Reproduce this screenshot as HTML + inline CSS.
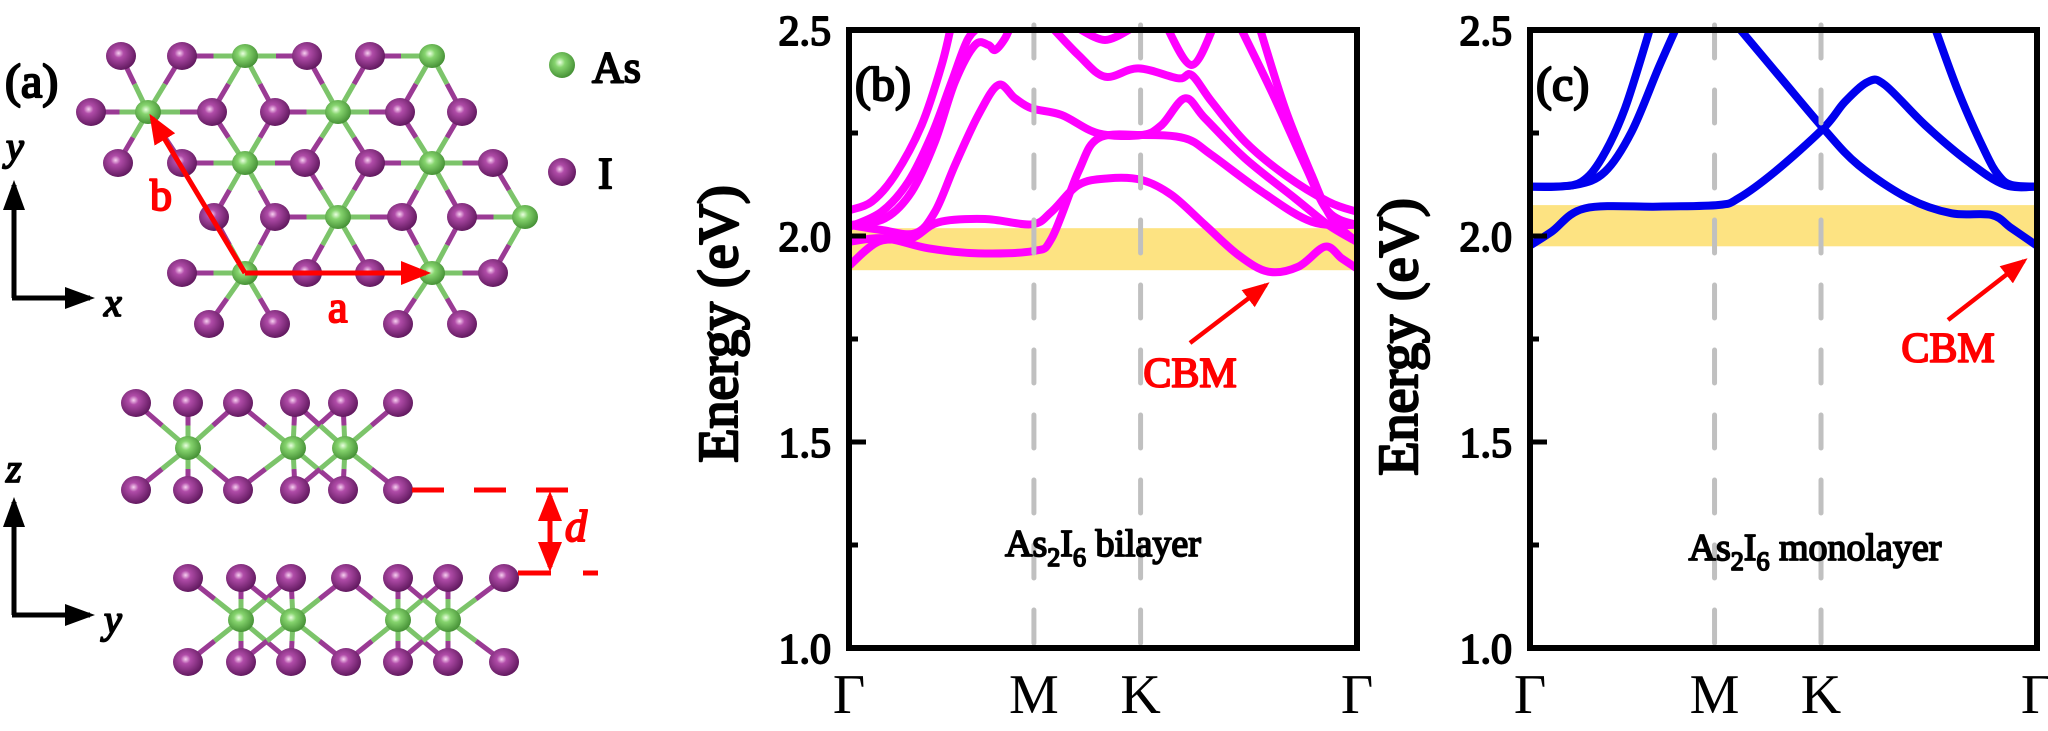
<!DOCTYPE html>
<html><head><meta charset="utf-8">
<style>
html,body{margin:0;padding:0;background:#fff;}
svg{display:block;}
</style></head>
<body>
<svg id="s" width="2048" height="731" viewBox="0 0 2048 731" xmlns="http://www.w3.org/2000/svg">
<defs>
<radialGradient id="gI" cx="0.42" cy="0.4" r="0.65">
<stop offset="0" stop-color="#f7d0f0"/><stop offset="0.25" stop-color="#b04ca8"/><stop offset="1" stop-color="#5a1458"/>
</radialGradient>
<radialGradient id="gA" cx="0.42" cy="0.4" r="0.65">
<stop offset="0" stop-color="#eaffe0"/><stop offset="0.3" stop-color="#86d46e"/><stop offset="1" stop-color="#3f8a30"/>
</radialGradient>
<marker id="ah" markerWidth="6" markerHeight="6" refX="5" refY="3" orient="auto" markerUnits="strokeWidth">
<path d="M0,0.6 L6,3 L0,5.4 Z" fill="#f00"/></marker>
<marker id="ahk" markerWidth="6" markerHeight="6" refX="5" refY="3" orient="auto" markerUnits="strokeWidth">
<path d="M0,0.8 L6,3 L0,5.2 Z" fill="#000"/></marker>
</defs>
<g id="struct"></g>
<g stroke="#000" stroke-width="5" fill="none">
<line x1="14" y1="298" x2="14" y2="185" marker-end="url(#ahk)"/>
<line x1="12" y1="298" x2="90" y2="298" marker-end="url(#ahk)"/>
<line x1="14" y1="615" x2="14" y2="502" marker-end="url(#ahk)"/>
<line x1="12" y1="615" x2="90" y2="615" marker-end="url(#ahk)"/>
</g>
<circle cx="562" cy="65" r="13" fill="url(#gA)"/>
<circle cx="562" cy="172" r="14" fill="url(#gI)"/>
<g id="pb"></g>
<g id="pc"></g>
</svg>
<script>
var NS="http://www.w3.org/2000/svg";
var FF="'Liberation Serif', serif";
var svg=document.getElementById('s');
function el(p,t,a,txt){var e=document.createElementNS(NS,t);for(var k in a)e.setAttribute(k,a[k]);if(txt!==undefined)e.textContent=txt;p.appendChild(e);return e;}
// text helper: bold simulated with stroke on regular serif
function tx(p,x,y,size,str,o){o=o||{};var col=o.fill||'#000';
 var a={x:x,y:y,'font-size':size,'font-family':FF,fill:col,'font-weight':'normal'};
 if(o.anchor)a['text-anchor']=o.anchor;if(o.italic)a['font-style']='italic';if(o.transform)a.transform=o.transform;
 if(o.bold!==false){a.stroke=col;a['stroke-width']=(size*0.045).toFixed(2);a['stroke-linejoin']='round';}
 var e=el(p,'text',a);if(str!==null)e.textContent=str;return e;}
tx(svg,5,97,48,'(a)');
tx(svg,592,82,44,'As');
tx(svg,598,188,44,'I');
tx(svg,6,160,40,'y',{italic:1});
tx(svg,104,316,40,'x',{italic:1});
tx(svg,6,482,40,'z',{italic:1});
tx(svg,104,633,40,'y',{italic:1});

var st=document.getElementById('struct');
var I=[],A=[];
function row(y,is,as){is.forEach(function(x){I.push([x,y]);});as.forEach(function(x){A.push([x,y]);});}
row(56,[121,182,307,370],[245,432]);
row(112,[91,212,275,400,462],[148,338]);
row(163,[118,182,305,370,493],[245,432]);
row(217,[214,275,402,462],[338,525]);
row(273,[182,307,370,493],[245,432]);
row(324,[209,275,398,462],[]);
var sI=[],sA=[];
[136,188,238,295,343,398].forEach(function(x){sI.push([x,403]);sI.push([x,490]);});
[188,293,345].forEach(function(x){sA.push([x,448]);});
[188,241,291,346,398,448,504].forEach(function(x){sI.push([x,578]);sI.push([x,662]);});
[241,293,398,448].forEach(function(x){sA.push([x,620]);});
function bonds(As,Is,d,w){As.forEach(function(a){Is.forEach(function(i){var dx=i[0]-a[0],dy=i[1]-a[1];if(Math.sqrt(dx*dx+dy*dy)<d){var mx=(a[0]+i[0])/2,my=(a[1]+i[1])/2;
el(st,'line',{x1:a[0],y1:a[1],x2:mx,y2:my,stroke:'#7cc46a','stroke-width':w});
el(st,'line',{x1:mx,y1:my,x2:i[0],y2:i[1],stroke:'#9a3a94','stroke-width':w});}});});}
bonds(A,I,76,5);
bonds(sA,sI,76,5);
I.forEach(function(p){el(st,'ellipse',{cx:p[0],cy:p[1],rx:15,ry:14,fill:'url(#gI)'});});
A.forEach(function(p){el(st,'ellipse',{cx:p[0],cy:p[1],rx:13,ry:12,fill:'url(#gA)'});});
sI.forEach(function(p){el(st,'ellipse',{cx:p[0],cy:p[1],rx:15,ry:14,fill:'url(#gI)'});});
sA.forEach(function(p){el(st,'ellipse',{cx:p[0],cy:p[1],rx:13,ry:12,fill:'url(#gA)'});});
el(st,'line',{x1:245,y1:273,x2:152,y2:118,stroke:'#f00','stroke-width':5,'marker-end':'url(#ah)'});
el(st,'line',{x1:245,y1:273,x2:426,y2:273,stroke:'#f00','stroke-width':5,'marker-end':'url(#ah)'});
tx(st,150,210,44,'b',{fill:'#f00'});
tx(st,328,322,44,'a',{fill:'#f00'});
var dd=el(st,'g',{stroke:'#f00','stroke-width':5,fill:'none'});
el(dd,'line',{x1:412,y1:490,x2:570,y2:490,'stroke-dasharray':'32,30'});
el(dd,'line',{x1:518,y1:573,x2:551,y2:573});
el(dd,'line',{x1:583,y1:573,x2:598,y2:573});
el(dd,'line',{x1:550,y1:530,x2:550,y2:496,'marker-end':'url(#ah)'});
el(dd,'line',{x1:550,y1:530,x2:550,y2:567,'marker-end':'url(#ah)'});
tx(st,565,541,44,'d',{fill:'#f00',italic:1});

function smooth(pts){var d='M'+pts[0][0]+','+pts[0][1];for(var i=0;i<pts.length-1;i++){var p0=pts[i-1]||pts[i],p1=pts[i],p2=pts[i+1],p3=pts[i+2]||p2;
var c1=[p1[0]+(p2[0]-p0[0])/6,p1[1]+(p2[1]-p0[1])/6],c2=[p2[0]-(p3[0]-p1[0])/6,p2[1]-(p3[1]-p1[1])/6];
d+=' C'+c1[0].toFixed(1)+','+c1[1].toFixed(1)+' '+c2[0].toFixed(1)+','+c2[1].toFixed(1)+' '+p2[0]+','+p2[1];}return d;}

function panel(g,L,R,band,curves,color,ox,label,sub,lblx,lbly,cbm,ylx,yly){
 var T=30,B=648,Y=function(e){return T+(2.5-e)*412;};
 var clip='cl'+label;var cp=el(g,'clipPath',{id:clip});el(cp,'rect',{x:L,y:T,width:R-L,height:B-T});
 el(g,'rect',{x:L,y:Y(band[0]),width:R-L,height:Y(band[1])-Y(band[0]),fill:'#fde382'});
 var cg=el(g,'g',{'clip-path':'url(#'+clip+')'});
 curves.forEach(function(c){var pts=c.map(function(p){return [ox+p[0]/3,25+p[1]/3];});
  el(cg,'path',{d:smooth(pts),fill:'none',stroke:color,'stroke-width':8,'stroke-linecap':'round','stroke-linejoin':'round'});});
 var W=R-L;[0.364,0.574].forEach(function(f){el(g,'line',{x1:L+f*W,y1:25,x2:L+f*W,y2:B,stroke:'#c0c0c0','stroke-width':5,'stroke-dasharray':'33,32','stroke-linecap':'round'});});
 [2.0,1.5].forEach(function(e){el(g,'line',{x1:L,y1:Y(e),x2:L+17,y2:Y(e),stroke:'#000','stroke-width':5});});
 [2.25,1.75,1.25].forEach(function(e){el(g,'line',{x1:L,y1:Y(e),x2:L+9,y2:Y(e),stroke:'#000','stroke-width':5});});
 el(g,'rect',{x:L,y:T,width:W,height:B-T,fill:'none',stroke:'#000','stroke-width':6});
 ['2.5','2.0','1.5','1.0'].forEach(function(s){tx(g,L-18,Y(parseFloat(s))+15,42,s,{anchor:'end'});});
 ['Γ','M','K','Γ'].forEach(function(s,i){var f=[0,0.364,0.574,1][i];tx(g,L+f*W,713,56,s,{anchor:'middle',bold:false});});
 tx(g,L+6,100,48,'('+label+')');
 tx(g,ylx,yly,56,'Energy (eV)',{anchor:'middle',transform:'rotate(-90 '+ylx+' '+yly+')'});
 var tt=tx(g,lblx,lbly,38,null,{anchor:'middle'});
 el(tt,'tspan',{},'As');el(tt,'tspan',{'font-size':26,dy:10},'2');el(tt,'tspan',{dy:-10},'I');
 el(tt,'tspan',{'font-size':26,dy:10},'6');el(tt,'tspan',{dy:-10},'\u00a0'+sub);
 el(g,'line',{x1:cbm[0],y1:cbm[1],x2:cbm[2],y2:cbm[3],stroke:'#f00','stroke-width':4.5,'marker-end':'url(#ah)'});
 tx(g,cbm[4],cbm[5],42,'CBM',{fill:'#f00',anchor:'middle'});
}
var bC=[
[[15,720],[100,650],[200,640],[280,592],[420,582],[560,598],[620,560],[700,480],[790,460],[890,465],[980,510],[1080,600],[1180,690],[1270,740],[1360,725],[1440,665],[1490,700],[1535,730]],
[[15,650],[120,640],[250,670],[400,685],[565,678],[620,640],[700,440],[760,340],[890,330],[1020,340],[1100,390],[1250,500],[1400,590],[1535,600]],
[[15,600],[110,615],[210,625],[270,560],[330,420],[400,270],[460,180],[510,220],[560,250],[650,270],[760,325],[890,330],[950,300],[1020,220],[1080,280],[1200,400],[1350,520],[1450,600],[1535,650]],
[[15,555],[80,530],[150,450],[230,300],[290,120],[320,-5]],
[[15,600],[120,580],[200,500],[270,350],[330,170],[390,60],[430,60],[450,75],[480,40],[500,-5]],
[[15,605],[110,560],[190,470],[260,330],[320,170],[370,40],[420,-5]],
[[610,-5],[700,90],[780,155],[880,130],[1000,160],[1040,150],[1100,230],[1200,350],[1320,450],[1450,530],[1535,560]],
[[1180,-5],[1280,200],[1380,420],[1450,560],[1535,600]],
[[1240,-5],[1320,250],[1400,450],[1460,580],[1535,650]],
[[960,-5],[1040,120],[1110,-5]],
[[700,10],[780,45],[860,10]]
];
var cC=[
[[10,665],[80,620],[180,550],[400,545],[580,540],[640,520],[750,440],[895,310],[960,230],[1030,170],[1080,180],[1200,300],[1330,410],[1440,480],[1540,485]],
[[10,485],[100,485],[170,470],[230,400],[300,250],[380,-5]],
[[10,485],[150,480],[240,440],[320,320],[400,130],[460,-5]],
[[630,-5],[760,150],[895,310],[1000,420],[1150,520],[1280,565],[1400,570],[1460,610],[1540,665]],
[[1225,-5],[1300,200],[1380,380],[1420,450],[1460,480],[1540,485]]
];
panel(document.getElementById('pb'),849,1357,[2.019,1.917],bC,'#ff00ff',845,'b','bilayer',1103,556,[1190,343,1266,285,1190,387],737,324);
panel(document.getElementById('pc'),1530,2037,[2.075,1.975],cC,'#0000ee',1525,'c','monolayer',1815,560,[1948,320,2024,261,1948,362],1417,337);
</script>
</body></html>
